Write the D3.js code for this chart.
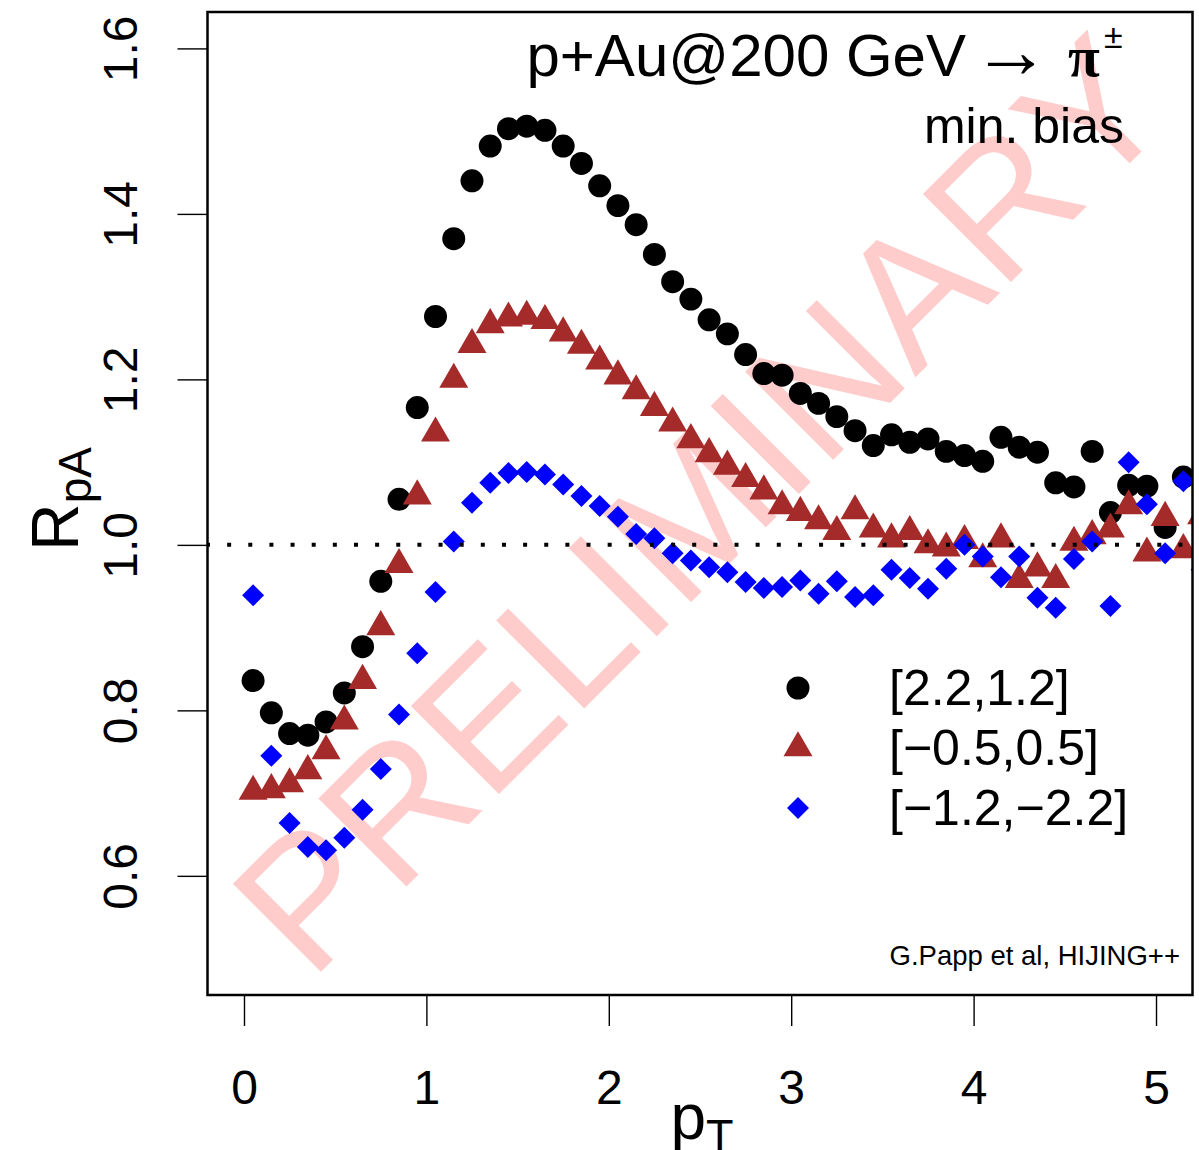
<!DOCTYPE html>
<html>
<head>
<meta charset="utf-8">
<script src="https://cdn.jsdelivr.net/npm/d3@7"></script>
<style>
body { margin:0; background:#fff; }
svg { display:block; font-family:"Liberation Sans", Arial, Helvetica, sans-serif; }
</style>
</head>
<body>
<svg width="1199" height="1150"></svg>
<script>
// pT bin centres
var pT = [0.05,0.15,0.25,0.35,0.45,0.55,0.65,0.75,0.85,0.95,
          1.05,1.15,1.25,1.35,1.45,1.55,1.65,1.75,1.85,1.95,
          2.05,2.15,2.25,2.35,2.45,2.55,2.65,2.75,2.85,2.95,
          3.05,3.15,3.25,3.35,3.45,3.55,3.65,3.75,3.85,3.95,
          4.05,4.15,4.25,4.35,4.45,4.55,4.65,4.75,4.85,4.95,
          5.05,5.15,5.25];

// [2.2,1.2]
var rForward = [0.836,0.797,0.772,0.770,0.786,0.821,0.877,0.956,1.055,1.166,
                1.276,1.370,1.440,1.482,1.503,1.506,1.501,1.482,1.461,1.434,
                1.410,1.387,1.351,1.318,1.297,1.272,1.255,1.230,1.207,1.205,
                1.183,1.171,1.155,1.138,1.120,1.133,1.124,1.128,1.113,1.108,
                1.101,1.130,1.118,1.112,1.075,1.070,1.113,1.039,1.072,1.071,
                1.021,1.082];
// [-0.5,0.5]
var rMid = [0.702,0.704,0.711,0.727,0.751,0.787,0.836,0.901,0.976,1.059,
            1.135,1.200,1.242,1.266,1.274,1.276,1.271,1.256,1.241,1.222,
            1.204,1.186,1.166,1.147,1.127,1.110,1.095,1.080,1.065,1.047,
            1.039,1.029,1.016,1.041,1.019,1.007,1.016,1.000,0.996,1.005,
            0.983,1.007,0.958,0.972,0.958,1.003,1.011,1.019,1.047,0.990,
            1.033,0.994,1.035];
// [-1.2,-2.2]
var rBackward = [0.939,0.745,0.664,0.635,0.631,0.646,0.680,0.729,0.795,0.869,
                 0.943,1.004,1.051,1.075,1.087,1.088,1.085,1.073,1.059,1.047,
                 1.034,1.013,1.008,0.990,0.981,0.973,0.967,0.955,0.948,0.949,
                 0.957,0.941,0.956,0.937,0.939,0.970,0.960,0.947,0.971,1.000,
                 0.986,0.961,0.986,0.936,0.924,0.983,1.004,0.926,1.100,1.049,
                 0.990,1.077,0.970];

var xTicks = [0,1,2,3,4,5];
var yTicks = [0.6,0.8,1.0,1.2,1.4,1.6];
var legendLabels = ['[2.2,1.2]','[\u22120.5,0.5]','[\u22121.2,\u22122.2]'];

var svg;
var x, y;
var box = {left:207.5, right:1192.5, top:12, bottom:995};

document.addEventListener('DOMContentLoaded',function(){
    svg = d3.select('svg');
    svg.append('rect').attr('width',1199).attr('height',1150).attr('fill','white');

    // xlim c(0,5), ylim c(0.5,1.6) with R's 4% padding
    x = d3.scaleLinear().domain([-0.2,5.2]).range([box.left,box.right]);
    y = d3.scaleLinear().domain([0.456,1.644]).range([box.bottom,box.top]);

    svg.append('clipPath').attr('id','plotclip')
        .append('rect')
        .attr('x',box.left).attr('y',box.top)
        .attr('width',box.right-box.left).attr('height',box.bottom-box.top);

    plotWatermark();
    plotPoints();
    plotAxes();
    plotText();
    plotLegend();
})

function plotWatermark(){
    svg.append('text')
        .attr('transform','translate(699,503) rotate(-45)')
        .attr('text-anchor','middle')
        .attr('dy','0.355em')
        .attr('font-size',181)
        .style('font-kerning','none')
        .attr('fill','#ffcccc')
        .text('PRELIMINARY');
}

function plotPoints(){
    var g = svg.append('g').attr('clip-path','url(#plotclip)');

    g.selectAll('.fwd')
        .data(rForward)
        .join('path')
        .attr('class','fwd')
        .attr('d',d3.symbol().type(d3.symbolCircle).size(415))
        .attr('transform',(d,i) => 'translate(' + x(pT[i]) + ',' + y(d) + ')')
        .attr('fill','black');

    g.selectAll('.mid')
        .data(rMid)
        .join('path')
        .attr('class','mid')
        .attr('d',d3.symbol().type(d3.symbolTriangle).size(364))
        .attr('transform',(d,i) => 'translate(' + x(pT[i]) + ',' + y(d) + ')')
        .attr('fill','#a52a2a');

    g.selectAll('.bwd')
        .data(rBackward)
        .join('path')
        .attr('class','bwd')
        .attr('d',d3.symbol().type(d3.symbolSquare).size(242))
        .attr('transform',(d,i) => 'translate(' + x(pT[i]) + ',' + y(d) + ') rotate(45)')
        .attr('fill','blue');

    // dotted line at R = 1
    g.append('line')
        .attr('x1',x(-0.2)-1.5).attr('x2',x(5.2))
        .attr('y1',y(1)).attr('y2',y(1))
        .attr('stroke','black')
        .attr('stroke-width',4)
        .attr('stroke-dasharray','4 17.14');
}

function plotAxes(){
    svg.append('rect')
        .attr('x',box.left).attr('y',box.top)
        .attr('width',box.right-box.left).attr('height',box.bottom-box.top)
        .attr('fill','none')
        .attr('stroke','black')
        .attr('stroke-width',2.5);

    var xAxis = svg.append('g')
        .attr('transform','translate(0,' + box.bottom + ')')
        .call(d3.axisBottom(x).tickValues(xTicks).tickSize(31).tickPadding(44).tickFormat(d3.format('d')));
    xAxis.select('.domain').remove();
    xAxis.selectAll('line').attr('stroke-width',1.4);
    xAxis.selectAll('text').attr('font-size',48).attr('font-family','inherit').attr('fill','black');

    var yAxis = svg.append('g')
        .attr('transform','translate(' + box.left + ',0)')
        .call(d3.axisLeft(y).tickValues(yTicks).tickSize(30).tickFormat(d3.format('.1f')));
    yAxis.select('.domain').remove();
    yAxis.selectAll('line').attr('stroke-width',1.4);
    yAxis.selectAll('text')
        .attr('font-size',48)
        .attr('font-family','inherit')
        .attr('fill','black')
        .attr('x',null).attr('dy',null)
        .attr('text-anchor','middle')
        .attr('transform','translate(-71,0) rotate(-90)');

    // axis titles
    var yl = svg.append('text')
        .attr('transform','translate(78,499) rotate(-90)')
        .attr('text-anchor','middle')
        .attr('font-size',66);
    yl.append('tspan').text('R');
    yl.append('tspan').attr('font-size',46).attr('dy',13).text('pA');

    var xl = svg.append('text')
        .attr('x',702).attr('y',1139)
        .attr('text-anchor','middle')
        .attr('font-size',64);
    xl.append('tspan').text('p');
    xl.append('tspan').attr('font-size',45).attr('dy',12).text('T');
}

function plotText(){
    svg.append('text')
        .attr('x',966).attr('y',76)
        .attr('text-anchor','end')
        .attr('font-size',60)
        .text('p+Au@200 GeV');
    svg.append('text')
        .attr('x',1011).attr('y',77)
        .attr('text-anchor','middle')
        .attr('font-size',78)
        .text('\u2192');
    svg.append('text')
        .attr('x',1068).attr('y',76)
        .attr('font-size',58)
        .attr('font-weight','bold')
        .attr('font-family','"Liberation Serif", "DejaVu Serif", serif')
        .text('\u03c0');
    svg.append('text')
        .attr('x',1104).attr('y',48)
        .attr('font-size',34)
        .text('\u00b1');

    svg.append('text')
        .attr('x',1124).attr('y',143)
        .attr('text-anchor','end')
        .attr('font-size',50)
        .text('min. bias');

    svg.append('text')
        .attr('x',1180).attr('y',965)
        .attr('text-anchor','end')
        .attr('font-size',27.5)
        .text('G.Papp et al, HIJING++');
}

function plotLegend(){
    var rows = [688,748,808];
    var shapes = [d3.symbolCircle,d3.symbolTriangle,d3.symbolSquare];
    var sizes = [415,364,242];
    var fills = ['black','#a52a2a','blue'];

    svg.selectAll('.legsym')
        .data(legendLabels)
        .join('path')
        .attr('class','legsym')
        .attr('d',(d,i) => d3.symbol().type(shapes[i]).size(sizes[i])())
        .attr('transform',(d,i) => 'translate(798,' + rows[i] + ')' + (i==2 ? ' rotate(45)' : ''))
        .attr('fill',(d,i) => fills[i]);

    svg.selectAll('.legtext')
        .data(legendLabels)
        .join('text')
        .attr('class','legtext')
        .attr('x',889)
        .attr('y',(d,i) => rows[i] + 17)
        .attr('font-size',50)
        .text(d => d);
}
</script>
</body>
</html>
